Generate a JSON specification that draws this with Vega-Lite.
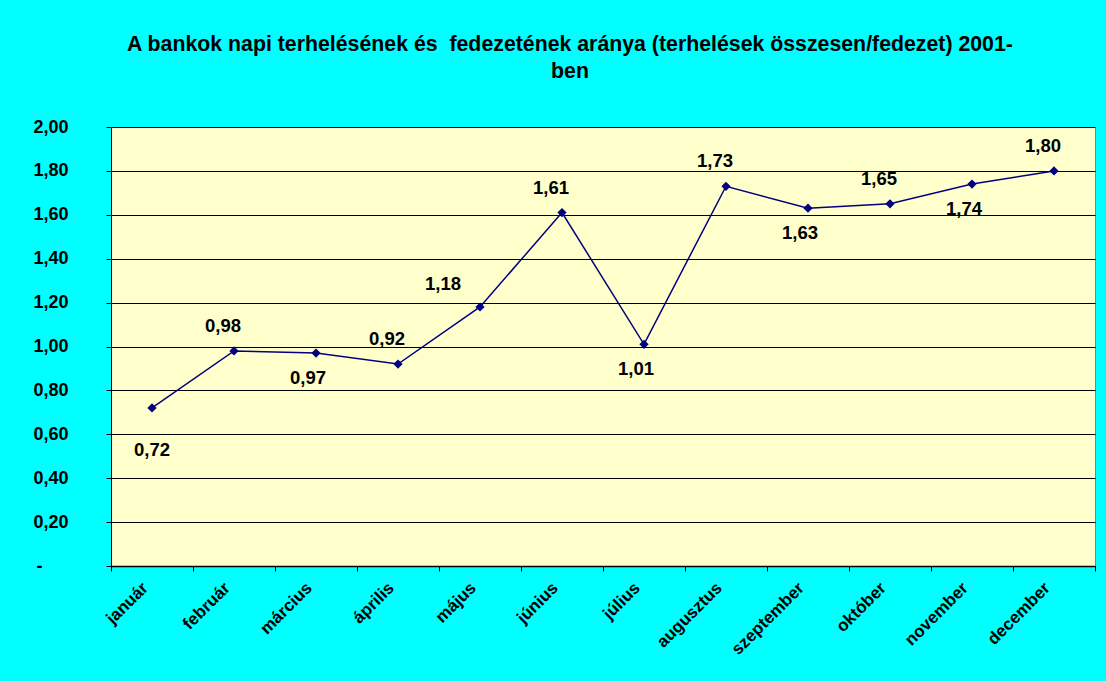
{
  "$schema": "https://vega.github.io/schema/vega-lite/v6.json",
  "width": 984,
  "height": 439,
  "autosize": {"type": "none"},
  "padding": {"left": 111, "top": 127, "right": 11, "bottom": 115},
  "background": "#00FFFF",
  "title": {
    "text": ["A bankok napi terhelésének és \u00a0fedezetének aránya (terhelések összesen/fedezet) 2001-", "ben"],
    "anchor": "middle",
    "dx": -33,
    "offset": 36,
    "fontSize": 21.3,
    "fontWeight": "bold",
    "font": "Liberation Sans",
    "color": "#000000",
    "lineHeight": 27
  },
  "config": {
    "font": "Liberation Sans",
    "view": {"fill": "#FFFFCC", "stroke": "#808080", "strokeWidth": 1},
    "locale": {"number": {"decimal": ",", "thousands": " ", "grouping": [3], "currency": ["", ""]}}
  },
  "data": {
    "values": [
      {"honap": "január", "arany": 0.72, "cimke": "lent2"},
      {"honap": "február", "arany": 0.98, "cimke": "fent"},
      {"honap": "március", "arany": 0.97, "cimke": "lent"},
      {"honap": "április", "arany": 0.92, "cimke": "fent"},
      {"honap": "május", "arany": 1.18, "cimke": "balra"},
      {"honap": "június", "arany": 1.61, "cimke": "fent"},
      {"honap": "július", "arany": 1.01, "cimke": "lent"},
      {"honap": "augusztus", "arany": 1.73, "cimke": "fent"},
      {"honap": "szeptember", "arany": 1.63, "cimke": "lent"},
      {"honap": "október", "arany": 1.65, "cimke": "fent"},
      {"honap": "november", "arany": 1.74, "cimke": "lent"},
      {"honap": "december", "arany": 1.80, "cimke": "fent"}
    ]
  },
  "encoding": {
    "x": {
      "field": "honap",
      "type": "nominal",
      "sort": null,
      "scale": {"type": "band", "paddingInner": 0, "paddingOuter": 0},
      "axis": {
        "title": null,
        "tickBand": "extent",
        "grid": false,
        "domain": true,
        "domainColor": "#000000",
        "domainWidth": 1.5,
        "tickColor": "#000000",
        "tickSize": 5,
        "labelAngle": -45,
        "labelAlign": "right",
        "labelBaseline": "middle",
        "labelFontSize": 17,
        "labelFontWeight": "bold",
        "labelColor": "#000000",
        "labelOffset": -7,
        "labelPadding": 14
      }
    },
    "y": {
      "field": "arany",
      "type": "quantitative",
      "scale": {"domain": [0, 2], "nice": false, "zero": true},
      "axis": {
        "title": null,
        "values": [0, 0.2, 0.4, 0.6, 0.8, 1.0, 1.2, 1.4, 1.6, 1.8, 2.0],
        "labelExpr": "datum.value === 0 ? '-\u2800\u2800' : format(datum.value, '.2f')",
        "grid": true,
        "gridColor": "#000000",
        "gridWidth": 1,
        "gridOpacity": 1,
        "domain": true,
        "domainColor": "#000000",
        "tickColor": "#000000",
        "tickSize": 5,
        "labelFontSize": 18,
        "labelFontWeight": "bold",
        "labelColor": "#000000",
        "labelPadding": 38
      }
    }
  },
  "layer": [
    {"mark": {"type": "line", "color": "#000080", "strokeWidth": 1.5}},
    {"mark": {"type": "point", "shape": "diamond", "filled": true, "color": "#000080", "size": 85, "opacity": 1}},
    {
      "transform": [{"filter": "datum.cimke === 'fent'"}],
      "mark": {"type": "text", "dx": -11, "dy": -25, "fontSize": 18.5, "fontWeight": "bold", "color": "#000000", "baseline": "middle"},
      "encoding": {"text": {"field": "arany", "type": "quantitative", "format": ".2f"}}
    },
    {
      "transform": [{"filter": "datum.cimke === 'lent'"}],
      "mark": {"type": "text", "dx": -8, "dy": 25, "fontSize": 18.5, "fontWeight": "bold", "color": "#000000", "baseline": "middle"},
      "encoding": {"text": {"field": "arany", "type": "quantitative", "format": ".2f"}}
    },
    {
      "transform": [{"filter": "datum.cimke === 'lent2'"}],
      "mark": {"type": "text", "dx": 0, "dy": 42, "fontSize": 18.5, "fontWeight": "bold", "color": "#000000", "baseline": "middle"},
      "encoding": {"text": {"field": "arany", "type": "quantitative", "format": ".2f"}}
    },
    {
      "transform": [{"filter": "datum.cimke === 'balra'"}],
      "mark": {"type": "text", "dx": -37, "dy": -23, "fontSize": 18.5, "fontWeight": "bold", "color": "#000000", "baseline": "middle"},
      "encoding": {"text": {"field": "arany", "type": "quantitative", "format": ".2f"}}
    }
  ]
}
